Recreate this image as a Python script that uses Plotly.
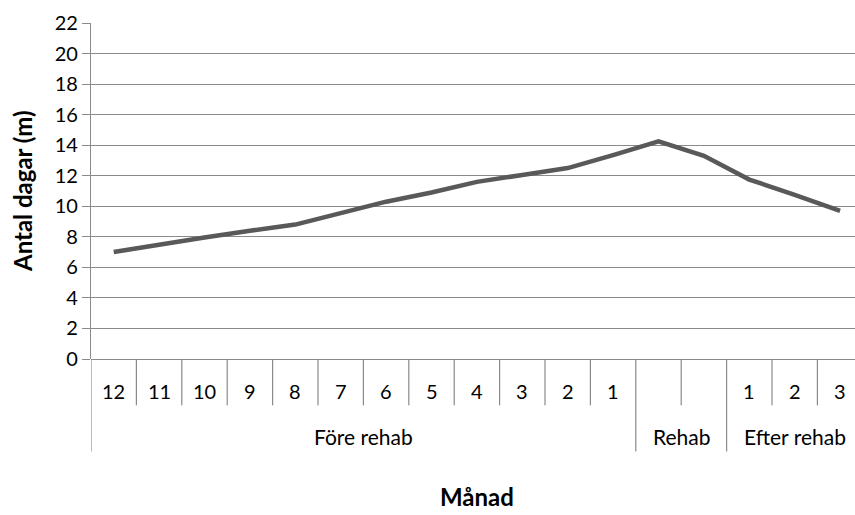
import plotly.graph_objects as go

# Monthly series: 12 months before, the rehab period (2 months), 3 months after
month_labels = ["12", "11", "10", "9", "8", "7", "6", "5", "4", "3", "2", "1", "", "", "1", "2", "3"]
groups = ["Före rehab"] * 12 + ["Rehab"] * 2 + ["Efter rehab"] * 3
values = [7.0, 7.5, 7.95, 8.4, 8.8, 9.55, 10.3, 10.9, 11.6, 12.05, 12.5, 13.35, 14.25, 13.3, 11.75, 10.75, 9.7]
y_ticks = list(range(0, 23, 2))

FONT = "Lato"
AXIS_GRAY = "#8a8a8a"
LINE_GRAY = "#595959"

n = len(values)
xs = list(range(n))

fig = go.Figure()
fig.add_trace(go.Scatter(
    x=xs, y=values, mode="lines",
    line=dict(color=LINE_GRAY, width=4.5),
    showlegend=False, hoverinfo="skip",
))

shapes = []
annotations = []

# Month labels under each category
for i, lab in enumerate(month_labels):
    if lab:
        annotations.append(dict(
            x=i, y=-0.094, xref="x", yref="paper", text=lab, showarrow=False,
            xanchor="center", yanchor="middle",
            font=dict(family=FONT, size=20, color="#000000"),
        ))

# Boundaries: short separators between months, long dividers between groups
group_starts = [0]
for i in range(1, n):
    if groups[i] != groups[i - 1]:
        group_starts.append(i)
for i in range(0, n):
    long_div = i in group_starts
    shapes.append(dict(
        type="line", xref="x", yref="paper",
        x0=i - 0.5, x1=i - 0.5, y0=0, y1=-0.2754 if long_div else -0.1378,
        line=dict(color=AXIS_GRAY, width=1.2),
    ))

# Group labels centred over their span
bounds = group_starts + [n]
for a, b in zip(bounds[:-1], bounds[1:]):
    annotations.append(dict(
        x=(a + b - 1) / 2, y=-0.2308, xref="x", yref="paper", text=groups[a],
        showarrow=False, xanchor="center", yanchor="middle",
        font=dict(family=FONT, size=21, color="#000000"),
    ))

# Axis titles
annotations.append(dict(
    x=(n - 1) / 2, y=-0.409, xref="x", yref="paper", text="<b>Månad</b>",
    showarrow=False, xanchor="center", yanchor="middle",
    font=dict(family=FONT, size=24, color="#000000"),
))
annotations.append(dict(
    x=-0.0903, y=0.5, xref="paper", yref="paper", text="<b>Antal dagar (m)</b>",
    showarrow=False, textangle=-90, xanchor="center", yanchor="middle",
    font=dict(family=FONT, size=24, color="#000000"),
))

fig.update_layout(
    width=855, height=515,
    margin=dict(l=91, r=0, t=23, b=156),
    plot_bgcolor="#ffffff", paper_bgcolor="#ffffff",
    shapes=shapes, annotations=annotations,
    xaxis=dict(
        range=[-0.5, -0.5 + 764 / 45.4], showticklabels=False, ticks="",
        showgrid=False, zeroline=False, showline=False, fixedrange=True,
    ),
    yaxis=dict(
        range=[0, 22], tickvals=y_ticks, ticks="outside", ticklen=8,
        tickcolor=AXIS_GRAY, tickwidth=1.2,
        showgrid=True, gridcolor=AXIS_GRAY, gridwidth=1.2,
        showline=True, linecolor=AXIS_GRAY, linewidth=1.2,
        zeroline=True, zerolinecolor=AXIS_GRAY, zerolinewidth=1.2,
        tickfont=dict(family=FONT, size=20, color="#000000"),
        fixedrange=True,
    ),
)

fig.write_html("out.html")
